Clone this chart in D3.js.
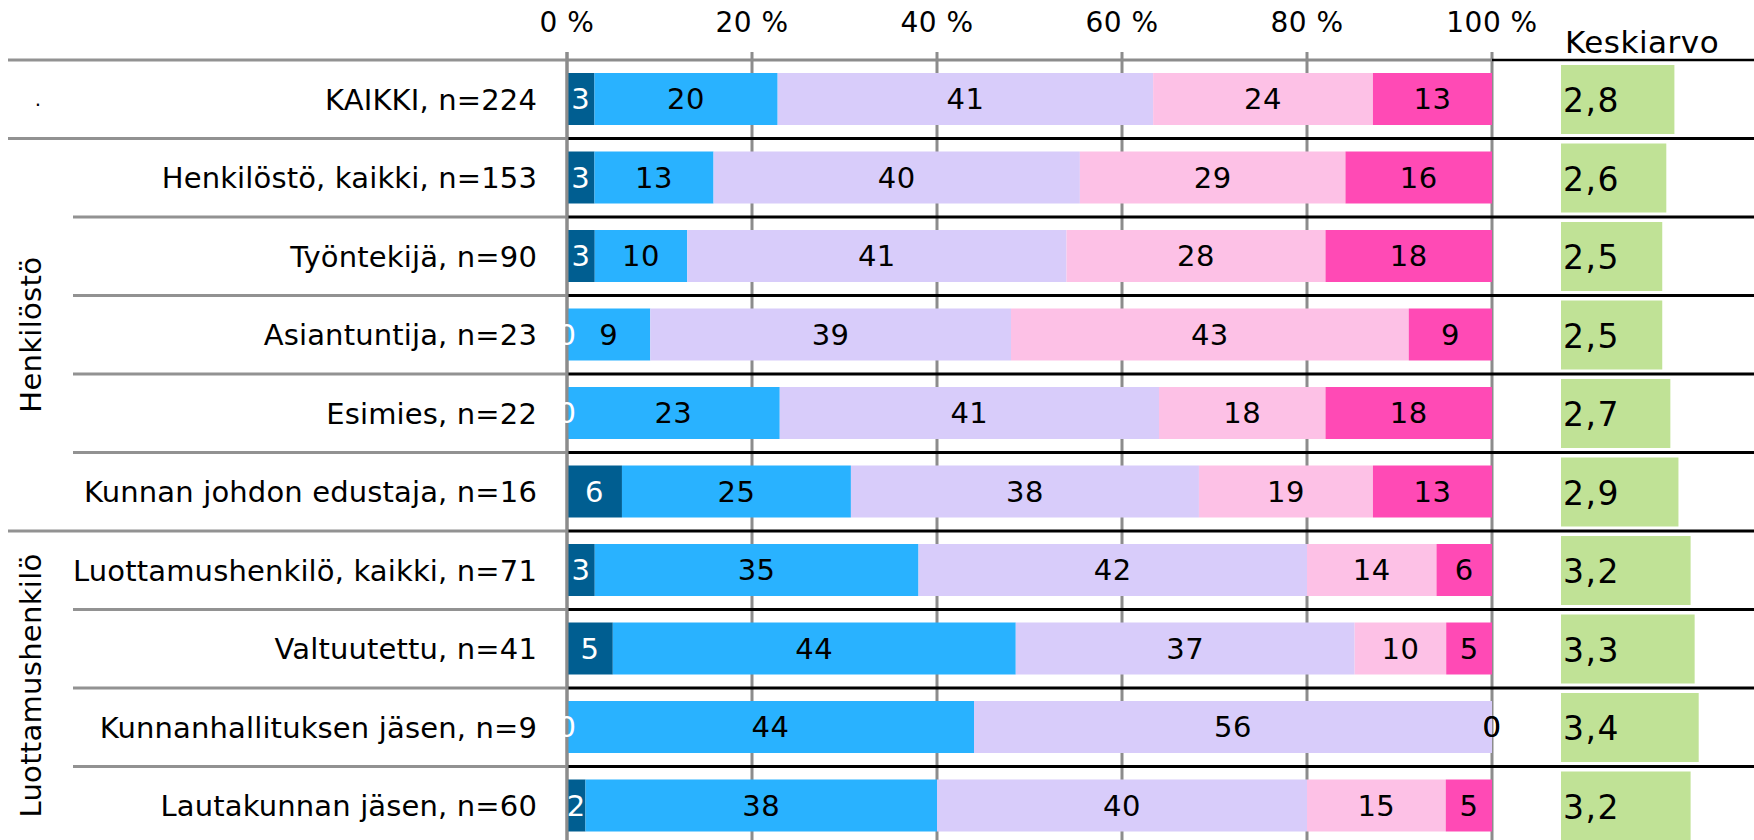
<!DOCTYPE html>
<html>
<head>
<meta charset="utf-8">
<script src="https://cdn.jsdelivr.net/npm/d3@7"></script>
<style>
  body { margin: 0; background: #fff; }
  text { font-family: "DejaVu Sans", sans-serif; }
</style>
</head>
<body>
<svg id="chart" width="1754" height="840"></svg>
<script>
var rowLabels = [
  'KAIKKI, n=224',
  'Henkilöstö, kaikki, n=153',
  'Työntekijä, n=90',
  'Asiantuntija, n=23',
  'Esimies, n=22',
  'Kunnan johdon edustaja, n=16',
  'Luottamushenkilö, kaikki, n=71',
  'Valtuutettu, n=41',
  'Kunnanhallituksen jäsen, n=9',
  'Lautakunnan jäsen, n=60'
];
var groupNames = ['.', 'Henkilöstö', 'Luottamushenkilö'];
var groupSizes = [1, 5, 4];

var level1 = [3, 3, 3, 0, 0, 6, 3, 5, 0, 2];
var level2 = [20, 13, 10, 9, 23, 25, 35, 44, 44, 38];
var level3 = [41, 40, 41, 39, 41, 38, 42, 37, 56, 40];
var level4 = [24, 29, 28, 43, 18, 19, 14, 10, 0, 15];
var level5 = [13, 16, 18, 9, 18, 13, 6, 5, 0, 5];
var means = [2.8, 2.6, 2.5, 2.5, 2.7, 2.9, 3.2, 3.3, 3.4, 3.2];

var tickValues = [0, 20, 40, 60, 80, 100];
var meanTitle = 'Keskiarvo';

var keys = ['level1', 'level2', 'level3', 'level4', 'level5'];
var colors = ['#005E91', '#29B2FF', '#D8CCFA', '#FDC1E6', '#FF4AB5'];
var textColors = ['#fff', '#000', '#000', '#000', '#000'];

var table = rowLabels.map(function(l, i){
  return {label: l, level1: level1[i], level2: level2[i], level3: level3[i],
          level4: level4[i], level5: level5[i], mean: means[i]};
});

var svg = d3.select('#chart');

var x = d3.scaleLinear().domain([0, 1]).range([567, 1492]);
var y = d3.scaleBand().domain(rowLabels).range([60, 845]);
var xMean = d3.scaleLinear().domain([0, 5]).range([1561, 1763.5]);
var color = d3.scaleOrdinal().domain(keys).range(colors);
var fi = d3.formatLocale({decimal: ',', thousands: ' ', grouping: [3], currency: ['', ' €']});
var fmtMean = fi.format('.1f');

var stack = d3.stack().keys(keys).offset(d3.stackOffsetExpand);
var series = stack(table);

var barTop = 13, barH = 52;

// vertical gridlines
svg.append('g')
  .selectAll('line')
  .data(tickValues)
  .enter().append('line')
  .attr('x1', d => x(d / 100)).attr('x2', d => x(d / 100))
  .attr('y1', 52).attr('y2', 840)
  .style('stroke', '#8C8C8C')
  .style('stroke-width', 3);

// tick labels
svg.append('g')
  .selectAll('text')
  .data(tickValues)
  .enter().append('text')
  .attr('x', d => x(d / 100))
  .attr('y', 32)
  .attr('text-anchor', 'middle')
  .style('font-size', '28px')
  .style('letter-spacing', '0.5px')
  .text(d => d + ' %');

// row separators in the plot (black)
var bounds = d3.range(1, rowLabels.length + 1);
svg.append('g')
  .selectAll('line')
  .data(bounds)
  .enter().append('line')
  .attr('x1', x(0)).attr('x2', 1754)
  .attr('y1', d => y.range()[0] + d * y.step())
  .attr('y2', d => y.range()[0] + d * y.step())
  .style('stroke', '#000')
  .style('stroke-width', 3);

// group boundaries
var groupStarts = [];
var acc = 0;
groupSizes.forEach(function(s){ groupStarts.push(acc); acc += s; });

// label table lines (gray)
svg.append('g')
  .selectAll('line')
  .data(d3.range(0, rowLabels.length + 1))
  .enter().append('line')
  .attr('x1', d => groupStarts.indexOf(d) >= 0 || d === rowLabels.length ? 8 : 73)
  .attr('x2', x(0))
  .attr('y1', d => y.range()[0] + d * y.step())
  .attr('y2', d => y.range()[0] + d * y.step())
  .style('stroke', '#929292')
  .style('stroke-width', 3);

// top axis line + header underline
svg.append('line')
  .attr('x1', x(0)).attr('x2', x(1))
  .attr('y1', 60).attr('y2', 60)
  .style('stroke', '#8C8C8C').style('stroke-width', 3);
svg.append('line')
  .attr('x1', x(1)).attr('x2', 1754)
  .attr('y1', 60).attr('y2', 60)
  .style('stroke', '#000').style('stroke-width', 2.5);

// bars
var layer = svg.append('g')
  .selectAll('g')
  .data(series)
  .enter().append('g')
  .style('fill', d => color(d.key));

layer.selectAll('rect')
  .data(d => d)
  .enter().append('rect')
  .attr('x', d => x(d[0]))
  .attr('width', d => x(d[1]) - x(d[0]))
  .attr('y', d => y(d.data.label) + barTop)
  .attr('height', barH);

// value axis line at 0 %
svg.append('line')
  .attr('x1', x(0)).attr('x2', x(0))
  .attr('y1', 52).attr('y2', 840)
  .style('stroke', '#8C8C8C').style('stroke-width', 3);

// bar labels
series.forEach(function(s, si){
  svg.append('g')
    .selectAll('text')
    .data(s)
    .enter().append('text')
    .attr('x', d => (x(d[0]) + x(d[1])) / 2)
    .attr('y', d => y(d.data.label) + barTop + barH / 2)
    .attr('dy', '0.36em')
    .attr('text-anchor', 'middle')
    .style('font-size', '29px')
    .style('letter-spacing', '0.5px')
    .style('fill', textColors[si])
    .text(d => d.data[s.key]);
});

// category labels
svg.append('g')
  .selectAll('text')
  .data(rowLabels)
  .enter().append('text')
  .attr('x', 537)
  .attr('y', d => y(d) + y.bandwidth() / 2)
  .attr('dy', '0.36em')
  .attr('text-anchor', 'end')
  .style('font-size', '29px')
  .style('letter-spacing', '0.15px')
  .text(d => d);

// group labels
groupNames.forEach(function(g, i){
  var y0 = y.range()[0] + groupStarts[i] * y.step();
  var y1 = Math.min(840, y0 + groupSizes[i] * y.step());
  var cy = (y0 + y1) / 2;
  if (g === '.') {
    svg.append('text')
      .attr('x', 38).attr('y', cy).attr('dy', '0.36em')
      .attr('text-anchor', 'middle')
      .style('font-size', '20px')
      .text(g);
  } else {
    svg.append('text')
      .attr('transform', 'translate(41,' + cy + ')rotate(-90)')
      .attr('text-anchor', 'middle')
      .style('font-size', '29px')
      .style('letter-spacing', '0.3px')
      .text(g);
  }
});

// Keskiarvo column
svg.append('text')
  .attr('x', 1565).attr('y', 53)
  .style('font-size', '31px')
  .style('letter-spacing', '0.5px')
  .text(meanTitle);

svg.append('g')
  .selectAll('rect')
  .data(table)
  .enter().append('rect')
  .attr('x', xMean(0))
  .attr('width', d => xMean(d.mean) - xMean(0))
  .attr('y', d => y(d.label) + 5)
  .attr('height', 69)
  .style('fill', '#C0E296');

svg.append('g')
  .selectAll('text')
  .data(table)
  .enter().append('text')
  .attr('x', 1563)
  .attr('y', d => y(d.label) + y.bandwidth() / 2)
  .attr('dy', '0.4em')
  .style('font-size', '33px')
  .style('letter-spacing', '1.5px')
  .text(d => fmtMean(d.mean));
</script>
</body>
</html>
